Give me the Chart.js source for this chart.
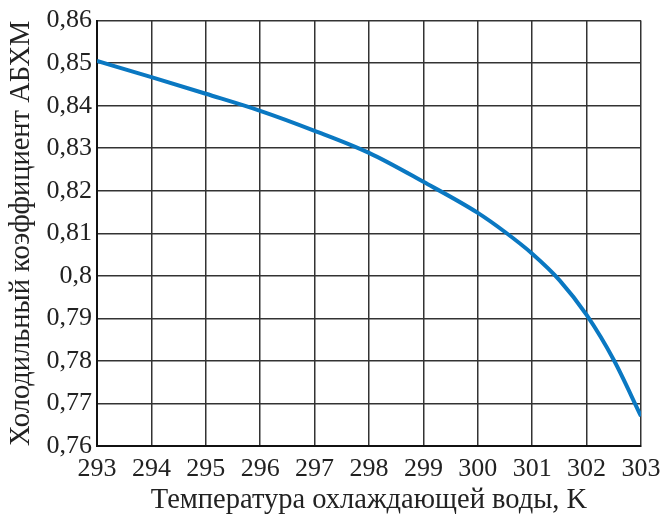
<!DOCTYPE html>
<html><head><meta charset="utf-8">
<script src="https://cdn.jsdelivr.net/npm/chart.js@4/dist/chart.umd.min.js"></script>
<style>html,body{margin:0;padding:0;background:#fff}#wrap{width:661px;height:516px}</style>
</head><body><div id="wrap"><canvas id="c" width="661" height="516"></canvas></div>
<script>
const temps = [293, 294, 295, 296, 297, 298, 299, 300, 300.5, 301, 301.5, 302, 302.5, 303];
const cop = [0.8505, 0.8467, 0.8428, 0.8388, 0.8341, 0.8289, 0.8221, 0.8148, 0.8103, 0.8052, 0.7990, 0.7908, 0.7802, 0.7670];
const yTickLabels = ['0,76','0,77','0,78','0,79','0,8','0,81','0,82','0,83','0,84','0,85','0,86'];
const xTitle = 'Температура охлаждающей воды, K';
const yTitle = 'Холодильный коэффициент АБХМ';

const tickFont = {family: '"Liberation Serif", "DejaVu Serif", serif', size: 26};
const titleFont = {family: '"Liberation Serif", "DejaVu Serif", serif', size: 28.5, lineHeight: 1.0};
new Chart(document.getElementById('c'), {
  type: 'line',
  data: {datasets: [{
    data: temps.map((t, i) => ({x: t, y: cop[i]})),
    borderColor: '#0a78c2', borderWidth: 4, pointRadius: 0, fill: false,
    cubicInterpolationMode: 'monotone'
  }]},
  options: {
    responsive: false, animation: false,
    layout: {padding: {left: 0, right: 0, top: 4, bottom: 0}},
    plugins: {legend: {display: false}, tooltip: {enabled: false}},
    scales: {
      x: {type: 'linear', min: 293, max: 303,
        afterFit: (s) => { s.height = 70; s.paddingRight = 20; },
        ticks: {stepSize: 1, color: '#222', font: tickFont, padding: 8, maxRotation: 0},
        grid: {color: '#333', lineWidth: 1.5, drawTicks: false},
        border: {color: '#111', width: 2},
        title: {display: true, text: xTitle, color: '#222', font: titleFont, padding: {top: 0, bottom: 1}}
      },
      y: {min: 0.76, max: 0.86,
        afterFit: (s) => { s.width = 97; },
        ticks: {stepSize: 0.01, color: '#222', font: tickFont, padding: 5,
          callback: (v) => yTickLabels[Math.round((v - 0.76) * 100)]},
        grid: {color: '#333', lineWidth: 1.5, drawTicks: false},
        border: {color: '#111', width: 2},
        title: {display: true, text: yTitle, color: '#222', font: titleFont, padding: {top: 7, bottom: 11}}
      }
    }
  },
  plugins: [{id: 'bg', beforeDraw(c) {const x = c.ctx; x.save(); x.fillStyle = '#fff'; x.fillRect(0, 0, c.width, c.height); x.restore();}}]
});
</script></body></html>
